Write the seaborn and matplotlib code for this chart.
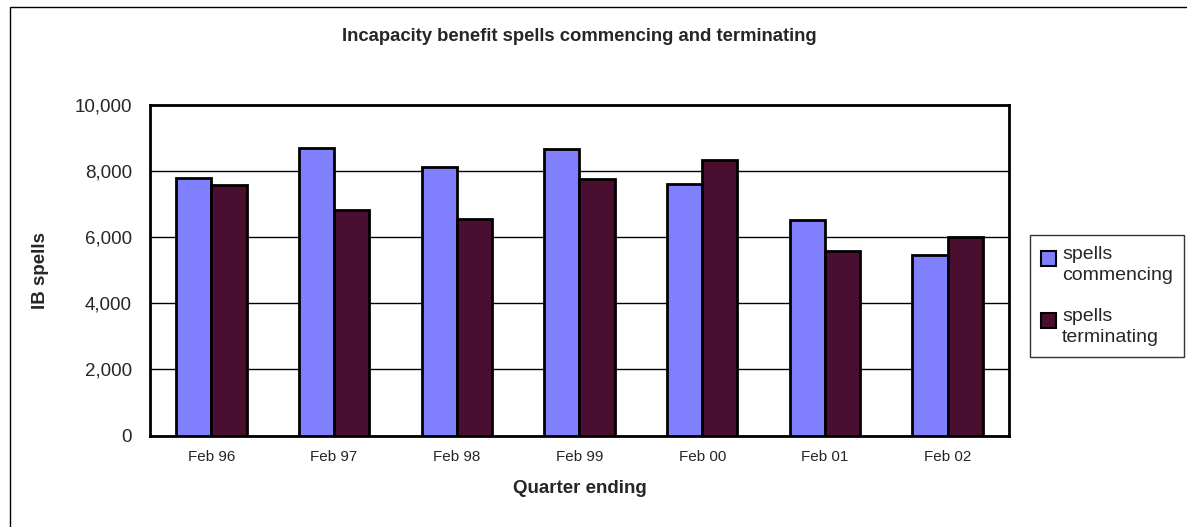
import matplotlib
matplotlib.use("Agg")
import matplotlib.pyplot as plt
import matplotlib.patches as mpatches
from matplotlib.legend_handler import HandlerPatch
import seaborn as sns
import pandas as pd

# values
quarters = ['Feb 96', 'Feb 97', 'Feb 98', 'Feb 99', 'Feb 00', 'Feb 01', 'Feb 02']
commencing = [7790, 8680, 8130, 8650, 7600, 6520, 5460]
terminating = [7580, 6820, 6540, 7760, 8320, 5570, 6000]
series_names = ['spells\ncommencing', 'spells\nterminating']

df = pd.DataFrame({
    'Quarter': quarters * 2,
    'Spells': commencing + terminating,
    'Series': [series_names[0]] * len(quarters) + [series_names[1]] * len(quarters),
})

sns.set_theme(style="white")
plt.rcParams['font.family'] = ['Liberation Sans', 'DejaVu Sans']

fig = plt.figure(figsize=(11.87, 5.27), dpi=100)
ax = fig.add_axes([0.1264, 0.1733, 0.7236, 0.628])

palette = ['#8080ff', '#4a0f30']
sns.barplot(data=df, x='Quarter', y='Spells', hue='Series', palette=palette,
            width=0.575, gap=0, saturation=1, edgecolor='black', linewidth=2,
            legend=False, ax=ax, zorder=3)

ax.set_ylim(0, 10000)
ax.set_xlim(-0.5, len(quarters) - 0.5)
ax.set_yticks(range(0, 10001, 2000))
ax.set_yticklabels([f'{v:,}' for v in range(0, 10001, 2000)], fontsize=13.5)
ax.tick_params(axis='y', direction='out', length=5, width=1, color='black', pad=8)
ax.tick_params(axis='x', length=0, labelsize=11, pad=10)
ax.yaxis.grid(True, color='black', linewidth=1)
ax.set_axisbelow(True)
for s in ax.spines.values():
    s.set_visible(True)
    s.set_color('black')
    s.set_linewidth(2)

ax.set_xlabel('Quarter ending', fontsize=13.5, fontweight='bold', labelpad=12)
ax.set_ylabel('IB spells', fontsize=13.5, fontweight='bold', labelpad=18)
fig.text(0.488, 0.93, 'Incapacity benefit spells commencing and terminating',
         ha='center', va='center', fontsize=13.3, fontweight='bold')


# legend key sits beside the first line of the two-line label
def top_square(legend, orig_handle, xdescent, ydescent, width, height, fontsize):
    side = 0.8 * fontsize
    return mpatches.Rectangle((-xdescent, -ydescent + height - side * 1.1), side, side)


handles = [mpatches.Patch(facecolor=c, edgecolor='black', linewidth=1.5, label=n)
           for c, n in zip(palette, series_names)]
leg = fig.legend(handles=handles, loc='upper left', bbox_to_anchor=(1030 / 1187, 1 - 235 / 527),
                 fontsize=14, frameon=True, fancybox=False, edgecolor='black',
                 handlelength=0.8, handleheight=2.2, handletextpad=0.3,
                 labelspacing=1.2, borderpad=0.55, borderaxespad=0,
                 handler_map={mpatches.Patch: HandlerPatch(patch_func=top_square)})
leg.get_frame().set_linewidth(1)
for t in leg.get_texts():
    t.set_linespacing(1.35)

# outer chart frame (only left and top edges are visible in the reference)
fig.patches.append(mpatches.Rectangle((10 / 1187, -0.1), 1.2, 1.1 - 7 / 527,
                                      transform=fig.transFigure, fill=False,
                                      edgecolor='black', linewidth=1))

fig.savefig('out.png', dpi=100)
